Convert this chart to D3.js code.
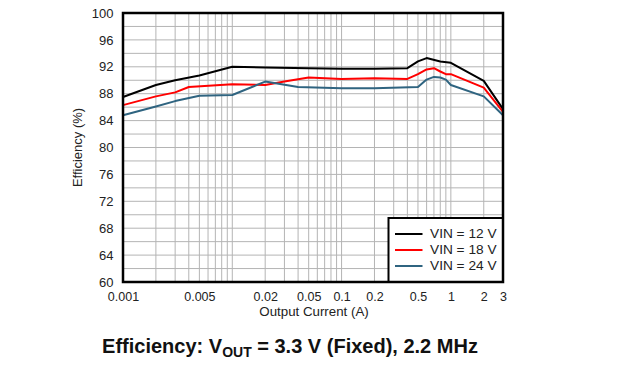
<!DOCTYPE html>
<html><head><meta charset="utf-8">
<script src="https://cdn.jsdelivr.net/npm/d3@7"></script>
<style>body{margin:0;background:#fff;} svg{display:block;font-family:"Liberation Sans",Arial,sans-serif;}</style>
</head><body>
<svg id="c" width="624" height="369"></svg>
<script>
const xTicks = [0.001, 0.005, 0.02, 0.05, 0.1, 0.2, 0.5, 1, 2, 3];
const xTickLabels = ["0.001", "0.005", "0.02", "0.05", "0.1", "0.2", "0.5", "1", "2", "3"];
const yTicks = [60, 64, 68, 72, 76, 80, 84, 88, 92, 96, 100];
const seriesNames = ["VIN = 12 V", "VIN = 18 V", "VIN = 24 V"];
const seriesColors = ["#000000", "#ff0000", "#2f6480"];
const current12 = [0.001, 0.002, 0.003, 0.005, 0.01, 0.02, 0.05, 0.1, 0.2, 0.4, 0.5, 0.6, 0.8, 1, 2, 3];
const eff12 = [87.5, 89.3, 90.0, 90.7, 92.0, 91.9, 91.8, 91.7, 91.7, 91.8, 92.8, 93.3, 92.8, 92.6, 89.9, 85.7];
const current18 = [0.001, 0.002, 0.003, 0.004, 0.01, 0.02, 0.03, 0.05, 0.1, 0.2, 0.4, 0.5, 0.6, 0.7, 0.8, 0.9, 1, 2, 3];
const eff18 = [86.3, 87.6, 88.2, 89.0, 89.4, 89.3, 89.8, 90.4, 90.2, 90.3, 90.2, 90.9, 91.6, 91.8, 91.3, 90.9, 90.9, 88.9, 85.3];
const current24 = [0.001, 0.002, 0.003, 0.005, 0.01, 0.02, 0.04, 0.1, 0.2, 0.5, 0.6, 0.7, 0.8, 0.9, 1, 2, 3];
const eff24 = [84.8, 86.1, 86.9, 87.7, 87.8, 89.8, 89.0, 88.8, 88.8, 89.0, 90.1, 90.5, 90.4, 90.1, 89.3, 87.6, 84.8];

const svg = d3.select("#c");
const L = 123, R = 503, T = 13, B = 282;
const x = d3.scaleLog().domain([0.001, 3]).range([L, R]);
const y = d3.scaleLinear().domain([60, 100]).range([B, T]);

// grid
const minorX = [];
[0.001, 0.01, 0.1, 1].forEach(d => { for (let k = 1; k <= 9; k++) { const v = d * k; if (v > 0.001 && v < 3) minorX.push(v); } });
const g = svg.append("g");
g.selectAll("line.vx").data(minorX).enter().append("line")
  .attr("x1", d => x(d)).attr("x2", d => x(d)).attr("y1", T).attr("y2", B)
  .attr("stroke", "#b4b4b4").attr("stroke-width", 1);
g.selectAll("line.hy").data(d3.range(62, 100, 2)).enter().append("line")
  .attr("x1", L).attr("x2", R).attr("y1", d => y(d)).attr("y2", d => y(d))
  .attr("stroke", "#b4b4b4").attr("stroke-width", 1);

// lines
const series = [[current12, eff12], [current18, eff18], [current24, eff24]];
const line = d3.line().x(d => x(d[0])).y(d => y(d[1]));
series.forEach((s, i) => {
  const pts = s[0].map((c, j) => [c, s[1][j]]);
  svg.append("path").datum(pts).attr("d", line).attr("fill", "none")
    .attr("stroke", seriesColors[i]).attr("stroke-width", 2).attr("stroke-linejoin", "round");
});

// axes
const xAxis = d3.axisBottom(x).tickValues(xTicks).tickFormat((d, i) => xTickLabels[i]).tickSize(0).tickPadding(10);
svg.append("g").attr("transform", `translate(0,${B})`).call(xAxis)
  .call(a => a.select(".domain").remove())
  .selectAll("text").attr("font-size", 12.5).attr("fill", "#222").attr("font-family", "Liberation Sans, Arial, sans-serif");
const yAxis = d3.axisLeft(y).tickValues(yTicks).tickSize(0).tickPadding(9.5);
svg.append("g").attr("transform", `translate(${L},0)`).call(yAxis)
  .call(a => a.select(".domain").remove())
  .selectAll("text").attr("font-size", 13).attr("fill", "#222").attr("font-family", "Liberation Sans, Arial, sans-serif");

// legend
const lg = svg.append("g");
lg.append("rect").attr("x", 388.5).attr("y", 218).attr("width", R - 388.5).attr("height", B - 218)
  .attr("fill", "#fff").attr("stroke", "#000").attr("stroke-width", 2);
seriesNames.forEach((n, i) => {
  const yy = 234 + i * 16;
  lg.append("line").attr("x1", 395).attr("x2", 422.5).attr("y1", yy).attr("y2", yy)
    .attr("stroke", seriesColors[i]).attr("stroke-width", 2);
  lg.append("text").attr("x", 430).attr("y", yy + 3.5).attr("font-size", 13.7).attr("fill", "#222").text(n);
});

// frame
svg.append("rect").attr("x", L).attr("y", T).attr("width", R - L).attr("height", B - T)
  .attr("fill", "none").attr("stroke", "#000").attr("stroke-width", 2.5);

// titles
svg.append("text").attr("x", 314).attr("y", 316).attr("text-anchor", "middle").attr("font-size", 13.3).attr("fill", "#222").text("Output Current (A)");
svg.append("text").attr("transform", `translate(81.5,${(T + B) / 2}) rotate(-90)`).attr("text-anchor", "middle")
  .attr("font-size", 13).attr("fill", "#222").text("Efficiency (%)");
const cap = svg.append("text").attr("x", 290).attr("y", 353).attr("text-anchor", "middle")
  .attr("font-size", 20).attr("font-weight", "bold").attr("fill", "#111");
cap.append("tspan").text("Efficiency: V");
cap.append("tspan").attr("font-size", 14).attr("dy", 4).text("OUT");
cap.append("tspan").attr("dy", -4).text(" = 3.3 V (Fixed), 2.2 MHz");
</script>
</body></html>
